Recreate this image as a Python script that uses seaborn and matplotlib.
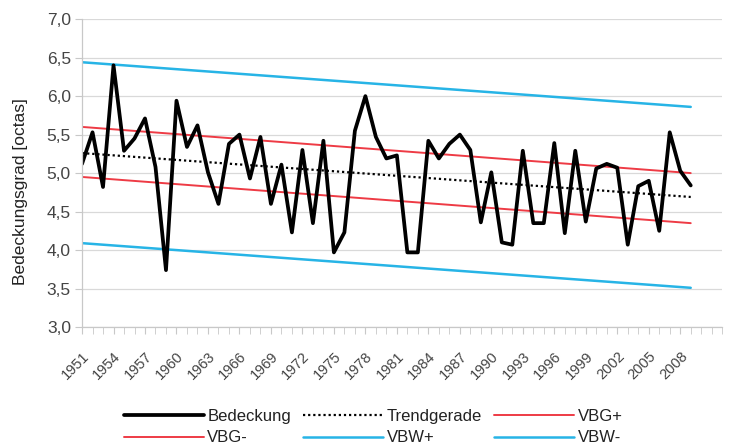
import numpy as np
import pandas as pd
import matplotlib
matplotlib.use("Agg")
import matplotlib.pyplot as plt
from matplotlib.ticker import MultipleLocator, FixedLocator, FuncFormatter
import seaborn as sns

# Annual mean cloud cover 1951-2009
years = list(range(1951, 2010))
bedeckung = [
    5.12, 5.53, 4.82, 6.40, 5.29, 5.45, 5.71, 5.08, 3.74, 5.94,
    5.34, 5.62, 5.01, 4.60, 5.38, 5.50, 4.93, 5.47, 4.60, 5.11,
    4.23, 5.30, 4.35, 5.42, 3.97, 4.23, 5.55, 6.00, 5.47, 5.19,
    5.23, 3.97, 3.97, 5.42, 5.19, 5.38, 5.50, 5.30, 4.36, 5.01,
    4.10, 4.07, 5.29, 4.35, 4.35, 5.39, 4.22, 5.29, 4.37, 5.06,
    5.12, 5.07, 4.07, 4.83, 4.90, 4.25, 5.53, 5.03, 4.84,
]

# Trend line and confidence / prediction bands (values at 1951 and 2009)
band_years = [1951, 2009]
trendgerade = [5.26, 4.69]
vbg_plus = [5.60, 5.00]
vbg_minus = [4.95, 4.35]
vbw_plus = [6.44, 5.86]
vbw_minus = [4.09, 3.51]

y_ticks = [3.0, 3.5, 4.0, 4.5, 5.0, 5.5, 6.0, 6.5, 7.0]
x_label_years = list(range(1951, 2009, 3))

sns.set_style("white")
plt.rcParams["font.family"] = ["Liberation Sans", "DejaVu Sans"]

fig = plt.figure(figsize=(7.35, 4.45), dpi=100)
ax = fig.add_axes([0.1116, 0.265, 0.871, 0.692])

df = pd.DataFrame({"Jahr": years, "Bedeckung": bedeckung})
bands = pd.DataFrame({
    "Jahr": band_years,
    "Trendgerade": trendgerade,
    "VBG+": vbg_plus,
    "VBG-": vbg_minus,
    "VBW+": vbw_plus,
    "VBW-": vbw_minus,
})

red = "#ee3b45"
cyan = "#27b4e6"

sns.lineplot(data=bands, x="Jahr", y="VBW+", ax=ax, color=cyan, lw=1.8, label="VBW+")
sns.lineplot(data=bands, x="Jahr", y="VBW-", ax=ax, color=cyan, lw=1.8, label="VBW-")
sns.lineplot(data=bands, x="Jahr", y="VBG+", ax=ax, color=red, lw=1.4, label="VBG+")
sns.lineplot(data=bands, x="Jahr", y="VBG-", ax=ax, color=red, lw=1.4, label="VBG-")
sns.lineplot(data=bands, x="Jahr", y="Trendgerade", ax=ax, color="black", lw=1.6,
             linestyle=(0, (1, 1.3)), label="Trendgerade")
sns.lineplot(data=df, x="Jahr", y="Bedeckung", ax=ax, color="black", lw=2.7,
             label="Bedeckung")

ax.set_xlim(1951, 2012)
ax.set_ylim(3.0, 7.0)
ax.yaxis.set_major_locator(FixedLocator(y_ticks))
ax.yaxis.set_major_formatter(FuncFormatter(lambda v, p: f"{v:.1f}".replace(".", ",")))
ax.xaxis.set_major_locator(FixedLocator(x_label_years))
ax.xaxis.set_minor_locator(MultipleLocator(1))
ax.set_xticklabels([str(y) for y in x_label_years], rotation=45, ha="right",
                   va="top", rotation_mode="anchor")

ax.grid(axis="y", color="#d9d9d9", lw=0.9)
ax.set_axisbelow(True)
for side in ["top", "right"]:
    ax.spines[side].set_visible(False)
for side in ["left", "bottom"]:
    ax.spines[side].set_color("#c8c8c8")
    ax.spines[side].set_linewidth(0.9)

ax.tick_params(axis="y", which="both", left=True, length=5, color="#c8c8c8",
               labelsize=12.5, labelcolor="#444444", pad=3)
ax.tick_params(axis="x", which="both", bottom=True, length=5, color="#c8c8c8",
               labelsize=10.5, labelcolor="#444444", pad=11)

ax.set_xlabel("")
ax.set_ylabel("Bedeckungsgrad [octas]", fontsize=12.5, color="#222222")
ax.yaxis.set_label_coords(-0.084, 0.44)

handles, labels = ax.get_legend_handles_labels()
lookup = dict(zip(labels, handles))
order = ["Bedeckung", "VBG-", "Trendgerade", "VBW+", "VBG+", "VBW-"]
ax.legend([lookup[k] for k in order], order, ncol=3, loc="center",
          bbox_to_anchor=(0.455, -0.325), frameon=False, fontsize=12,
          handlelength=4.8, handletextpad=0.2, columnspacing=0.75,
          labelspacing=0.4, labelcolor="#222222", borderpad=0.2)

fig.savefig("out.png", dpi=100, facecolor="white")
